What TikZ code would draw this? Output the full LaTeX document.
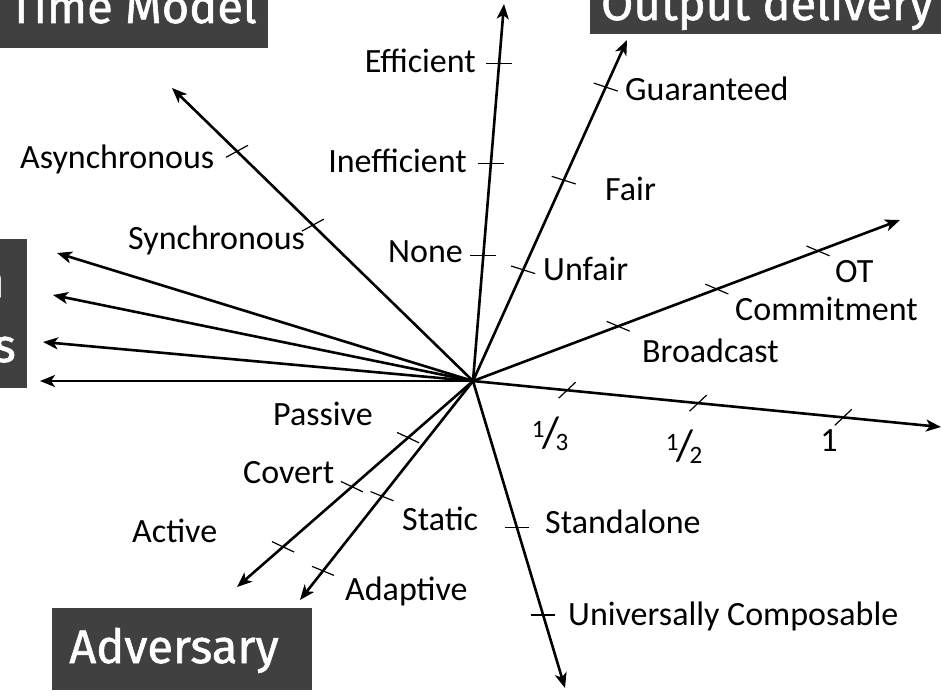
\documentclass[tikz,border=0pt]{standalone}
\usepackage{fontspec}
\setmainfont{Carlito}
\newfontfamily\boxfont{Fira Sans}[FakeBold=1.2]
\usetikzlibrary{arrows.meta,calc}
\definecolor{boxgray}{HTML}{404040}

% tick mark centred on #1, half-extent (#2,#3)
\newcommand\tickat[3]{\draw[tickmark] ($(#1)-(#2,#3)$) -- ($(#1)+(#2,#3)$);}
% hand-set fraction
\newcommand\frc[2]{\raisebox{10pt}{\fontsize{25}{25}\selectfont #1}\kern-2pt{\fontsize{44}{44}\selectfont /}\kern-4pt\raisebox{-3pt}{\fontsize{25}{25}\selectfont #2}}

\begin{document}
\begin{tikzpicture}[x=1pt,y=-1pt,
  axis/.style={line width=2.6pt,-{Stealth[length=15pt,width=12pt,inset=4pt]}},
  tickmark/.style={line width=1.2pt},
  lbl/.style={font=\fontsize{34}{37}\selectfont, inner sep=0pt},
  titletext/.style={font=\boxfont\fontsize{47}{58}\selectfont, text=white, inner sep=0pt}]

\useasboundingbox (0,0) rectangle (941,698);
\fill[white] (0,0) rectangle (941,698);

% centre and axis ends
\coordinate (O) at (473,381);
\coordinate (effTip) at (504,4);
\coordinate (outTip) at (627,40);
\coordinate (setTip) at (900,220);
\coordinate (thrTip) at (941,427);
\coordinate (cmpTip) at (565,688);
\coordinate (advATip) at (237,587);
\coordinate (advBTip) at (300,600);
\coordinate (timeTip) at (172,88);
\coordinate (ch1) at (57,253);
\coordinate (ch2) at (53,295);
\coordinate (ch3) at (43,342);
\coordinate (ch4) at (40,381);

% title boxes
\fill[boxgray] (0,-40) rectangle (268,48);
\node[titletext, anchor=base] (timeTitle) at (133,23) {Time Model};
\fill[boxgray] (590,-40) rectangle (980,34);
\node[titletext, anchor=base] (outTitle) at (767,20) {Output delivery};
\fill[boxgray] (52,608) rectangle (312,690);
\node[titletext, anchor=base] (advTitle) at (174,663) {Adversary};
\fill[boxgray] (-120,239) rectangle (27,388);
\node[titletext, anchor=base east] (chTitleA) at (5,297) {n};
\node[titletext, anchor=base east] (chTitleB) at (16,362) {s};

% axes
\foreach \t in {effTip,outTip,setTip,thrTip,cmpTip,advATip,advBTip,timeTip,ch1,ch2,ch3,ch4}
  \draw[axis] (O) -- (\t);

% positions of the marks along the axes
\coordinate (eff1) at ($(O)!0.332!(effTip)$);
\coordinate (eff2) at ($(O)!0.576!(effTip)$);
\coordinate (eff3) at ($(O)!0.843!(effTip)$);
\coordinate (out1) at ($(O)!0.326!(outTip)$);
\coordinate (out2) at ($(O)!0.589!(outTip)$);
\coordinate (out3) at ($(O)!0.862!(outTip)$);
\coordinate (set1) at ($(O)!0.340!(setTip)$);
\coordinate (set2) at ($(O)!0.571!(setTip)$);
\coordinate (set3) at ($(O)!0.808!(setTip)$);
\coordinate (thr1) at ($(O)!0.201!(thrTip)$);
\coordinate (thr2) at ($(O)!0.481!(thrTip)$);
\coordinate (thr3) at ($(O)!0.791!(thrTip)$);
\coordinate (cmp1) at ($(O)!0.476!(cmpTip)$);
\coordinate (cmp2) at ($(O)!0.762!(cmpTip)$);
\coordinate (advA1) at ($(O)!0.275!(advATip)$);
\coordinate (advA2) at ($(O)!0.513!(advATip)$);
\coordinate (advA3) at ($(O)!0.805!(advATip)$);
\coordinate (advB1) at ($(O)!0.526!(advBTip)$);
\coordinate (advB2) at ($(O)!0.867!(advBTip)$);
\coordinate (time1) at ($(O)!0.532!(timeTip)$);
\coordinate (time2) at ($(O)!0.784!(timeTip)$);

% tick marks
\tickat{eff1}{13}{0} \tickat{eff2}{13}{0} \tickat{eff3}{13}{0}
\tickat{out1}{12}{3.8} \tickat{out2}{12}{3.8} \tickat{out3}{12}{4}
\tickat{set1}{11.5}{4.9} \tickat{set2}{11.5}{4.9} \tickat{set3}{11.5}{4.9}
\tickat{thr1}{8.5}{-8} \tickat{thr2}{8.5}{-8} \tickat{thr3}{8.5}{-8}
\tickat{cmp1}{12}{0} \tickat{cmp2}{12}{0}
\tickat{advA1}{11}{5.2} \tickat{advA2}{11}{5.2} \tickat{advA3}{11}{5.2}
\tickat{advB1}{11.5}{4.6} \tickat{advB2}{11}{4.5}
\tickat{time1}{11}{-6} \tickat{time2}{11}{-6}

% labels
\node[lbl, anchor=base east] (lEff) at (476,73) {Efficient};
\node[lbl, anchor=base east] (lIneff) at (467,172) {Inefficient};
\node[lbl, anchor=base east] (lNone) at (463,262) {None};
\node[lbl, anchor=base west] (lGuar) at (625,101) {Guaranteed};
\node[lbl, anchor=base west] (lFair) at (605,200) {Fair};
\node[lbl, anchor=base west] (lUnfair) at (543,280) {Unfair};
\node[lbl, anchor=base west] (lOT) at (835,282) {OT};
\node[lbl, anchor=base west] (lCom) at (735,320) {Commitment};
\node[lbl, anchor=base west] (lBc) at (642,362) {Broadcast};
\node[lbl] (lThird) at (550,434) {\frc{1}{3}};
\node[lbl] (lHalf) at (684,447) {\frc{1}{2}};
\node[lbl] (lOne) at (829,441) {1};
\node[lbl, anchor=base west] (lSa) at (545,533) {Standalone};
\node[lbl, anchor=base west] (lUC) at (568,625) {Universally Composable};
\node[lbl, anchor=base west] (lPas) at (273,425) {Passive};
\node[lbl, anchor=base west] (lCov) at (243,483) {Covert};
\node[lbl, anchor=base west] (lAct) at (132,542) {Active};
\node[lbl, anchor=base west] (lSta) at (402,530) {Static};
\node[lbl, anchor=base west] (lAda) at (345,600) {Adaptive};
\node[lbl, anchor=base west] (lAsy) at (20,168) {Asynchronous};
\node[lbl, anchor=base west] (lSyn) at (128,249) {Synchronous};
\end{tikzpicture}
\end{document}
